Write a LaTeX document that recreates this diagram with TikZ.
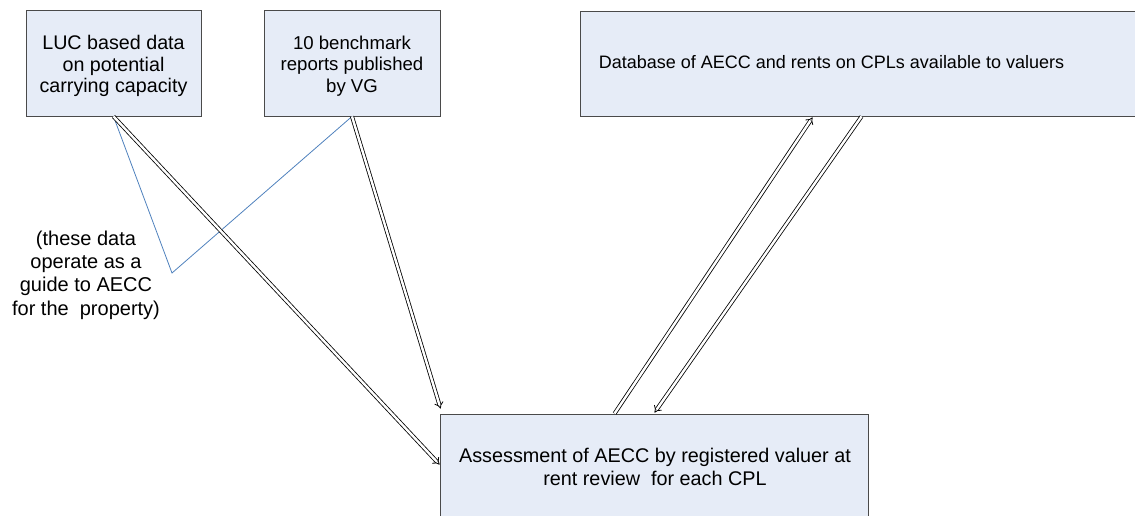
\documentclass[tikz,border=0pt]{standalone}
\usepackage{fontspec}
\setmainfont{Liberation Sans}
\usetikzlibrary{arrows.meta,calc}

\definecolor{boxfill}{HTML}{E6ECF7}
\definecolor{boxline}{HTML}{4A4A4A}
\definecolor{guideblue}{HTML}{4F81BD}

\tikzset{
  flowbox/.style={draw=boxline, line width=0.9pt, fill=boxfill, inner sep=0pt},
  boxtext/.style={align=center, inner sep=0pt},
  flowarrow/.style={draw=black, line width=0.8pt, double=white, double distance=2.4pt,
    -{Implies[length=10pt]}},
  guideline/.style={draw=guideblue, line width=0.8pt},
  note/.style={align=center, inner sep=0pt, font=\fontsize{20}{23.4}\selectfont}
}

\begin{document}
\begin{tikzpicture}[x=1pt, y=-1pt]
\useasboundingbox (0,0) rectangle (1135,516);
\clip (0,0) rectangle (1135,516);

% boxes
\node[flowbox, minimum width=175pt, minimum height=106pt] (luc) at (113.5,63) {};
\node[flowbox, minimum width=176pt, minimum height=106pt] (bench) at (352,63) {};
\node[flowbox, minimum width=570pt, minimum height=105pt] (db) at (865,63.5) {};
\node[flowbox, minimum width=428pt, minimum height=104pt] (assess) at (654,466) {};

% box texts
\node[boxtext, font=\fontsize{19.7}{21.6}\selectfont] (luctext) at (113.5,66)
  {LUC based data\\on potential\\carrying capacity};
\node[boxtext, font=\fontsize{18.6}{21.6}\selectfont] (benchtext) at (352,66)
  {10 benchmark\\reports published\\by VG};
\node[boxtext, font=\fontsize{18}{21.6}\selectfont] (dbtext) at (831.5,62)
  {Database of AECC and rents on CPLs available to valuers};
\node[boxtext, font=\fontsize{19.8}{22.5}\selectfont] (assesstext) at (655,467)
  {Assessment of AECC by registered valuer at\\rent review\ \ for each CPL};

% note
\node[note] (guide) at (86,275) {(these data\\operate as a\\guide to AECC\\for the\ \ property)};

% blue guide lines linking both sources to the note
\coordinate (vertex) at (172,273);
\draw[guideline] (luc.south) -- (vertex) -- (bench.south);

% inputs to the assessment
\coordinate (lucin) at ($(assess.north west)+(0,51)$);
\coordinate (benchin) at ($(assess.north west)+(1,-5)$);
\draw[flowarrow] (luc.south) -- (lucin);
\draw[flowarrow] (bench.south) -- (benchin);

% exchange with the database
\coordinate (upstart) at ($(assess.north west)+(175,0)$);
\coordinate (upend) at ($(db.south west)+(233,1)$);
\coordinate (downstart) at ($(db.south west)+(282,0)$);
\coordinate (downend) at ($(assess.north west)+(215,-1)$);
\draw[flowarrow] (upstart) -- (upend);
\draw[flowarrow] (downstart) -- (downend);
\end{tikzpicture}
\end{document}
